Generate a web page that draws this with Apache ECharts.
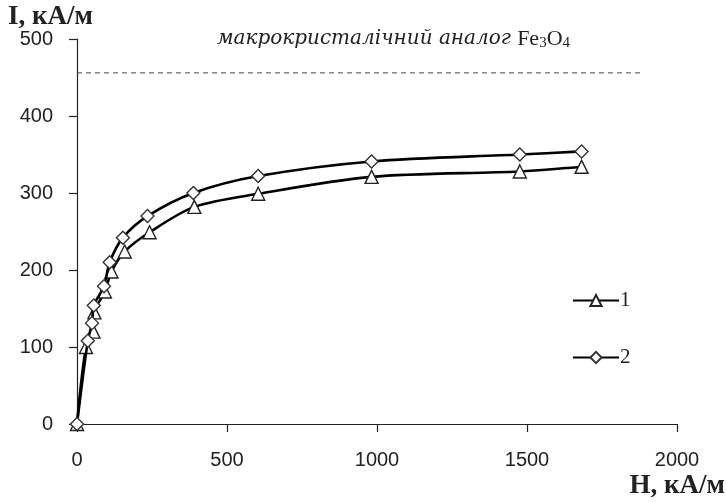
<!DOCTYPE html>
<html><head><meta charset="utf-8">
<script src="https://cdn.jsdelivr.net/npm/echarts@6/dist/echarts.min.js"></script>
<style>html,body{margin:0;padding:0;background:#fff}#c{width:726px;height:502px}</style>
</head><body><div id="c"></div>
<script>
const h1 = [0, 30, 55, 58, 93, 115, 159, 242, 391, 604, 982, 1476, 1682];
const i1 = [0, 100, 120, 145, 172, 198, 224, 249, 282, 299, 321, 328, 334];
const h2 = [0, 36, 50, 56, 90, 109, 153, 235, 388, 604, 982, 1476, 1682];
const i2 = [0, 108, 131, 154, 179, 210, 242, 270, 300, 322, 341, 350, 354];
const refH = [0, 1880];
const refI = [456, 456];
const seriesNames = ['1', '2'];
const xTicks = [0, 500, 1000, 1500, 2000];
const yTicks = [0, 100, 200, 300, 400, 500];

const zip = (a, b) => a.map((v, k) => [v, b[k]]);
const chart = echarts.init(document.getElementById('c'));
const axisLab = {fontFamily: 'Liberation Sans', fontSize: 20, color: '#222', formatter: v => String(v)};
chart.setOption({
  animation: false,
  grid: {left: 77, right: 49, top: 39, bottom: 78},
  xAxis: {
    type: 'value', min: xTicks[0], max: xTicks[xTicks.length-1], interval: 500,
    axisLine: {lineStyle: {color: '#222', width: 1.2}},
    axisTick: {show: true, length: 8, lineStyle: {color: '#222', width: 1.2}},
    axisLabel: Object.assign({margin: 26}, axisLab),
    splitLine: {show: false}
  },
  yAxis: {
    type: 'value', min: yTicks[0], max: yTicks[yTicks.length-1], interval: 100,
    axisLine: {show: true, lineStyle: {color: '#222', width: 1.2}},
    axisTick: {show: true, length: 8, lineStyle: {color: '#222', width: 1.2}},
    axisLabel: Object.assign({margin: 24}, axisLab),
    splitLine: {show: false}
  },
  legend: {
    orient: 'vertical', left: 567, top: 285, itemGap: 36,
    itemWidth: 46, itemHeight: 14,
    textStyle: {fontFamily: 'Liberation Serif', fontSize: 21, lineHeight: 16, color: '#222', padding: [0,0,0,-4]},
    data: seriesNames
  },
  graphic: [
    {type: 'text', left: 8, top: 4, style: {text: 'I, кА/м', font: 'bold 27px "Liberation Serif"', fill: '#222'}},
    {type: 'text', right: 1, top: 473, style: {text: 'H, кА/м', font: 'bold 27px "Liberation Serif"', fill: '#222'}},
    {type: 'text', left: 217, top: 28, style: {
      rich: {
        it: {fontFamily: 'DejaVu Serif', fontStyle: 'italic', fontSize: 20, fill: '#222'},
        n: {fontFamily: 'Liberation Serif', fontSize: 22, fill: '#222'},
        s: {fontFamily: 'Liberation Serif', fontSize: 15, fill: '#222', padding: [9,0,0,0]}
      },
      text: '{it|макрокристалічний аналог }{n|Fe}{s|3}{n|O}{s|4}'
    }}
  ],
  series: [
    {
      name: seriesNames[0], type: 'line', smooth: 0.3, data: zip(h1, i1),
      symbol: 'triangle', symbolSize: 13,
      lineStyle: {color: '#000', width: 2.6},
      itemStyle: {color: '#fff', borderColor: '#222', borderWidth: 1.4},
      z: 3
    },
    {
      name: seriesNames[1], type: 'line', smooth: 0.3, data: zip(h2, i2),
      symbol: 'diamond', symbolSize: 13,
      lineStyle: {color: '#000', width: 2.6},
      itemStyle: {color: '#fff', borderColor: '#333', borderWidth: 1.4},
      z: 4
    },
    {
      name: 'ref', type: 'line', data: zip(refH, refI), symbol: 'none',
      lineStyle: {color: '#444', width: 1, type: [5, 4]}, silent: true, z: 1
    }
  ]
});
</script>
</body></html>
